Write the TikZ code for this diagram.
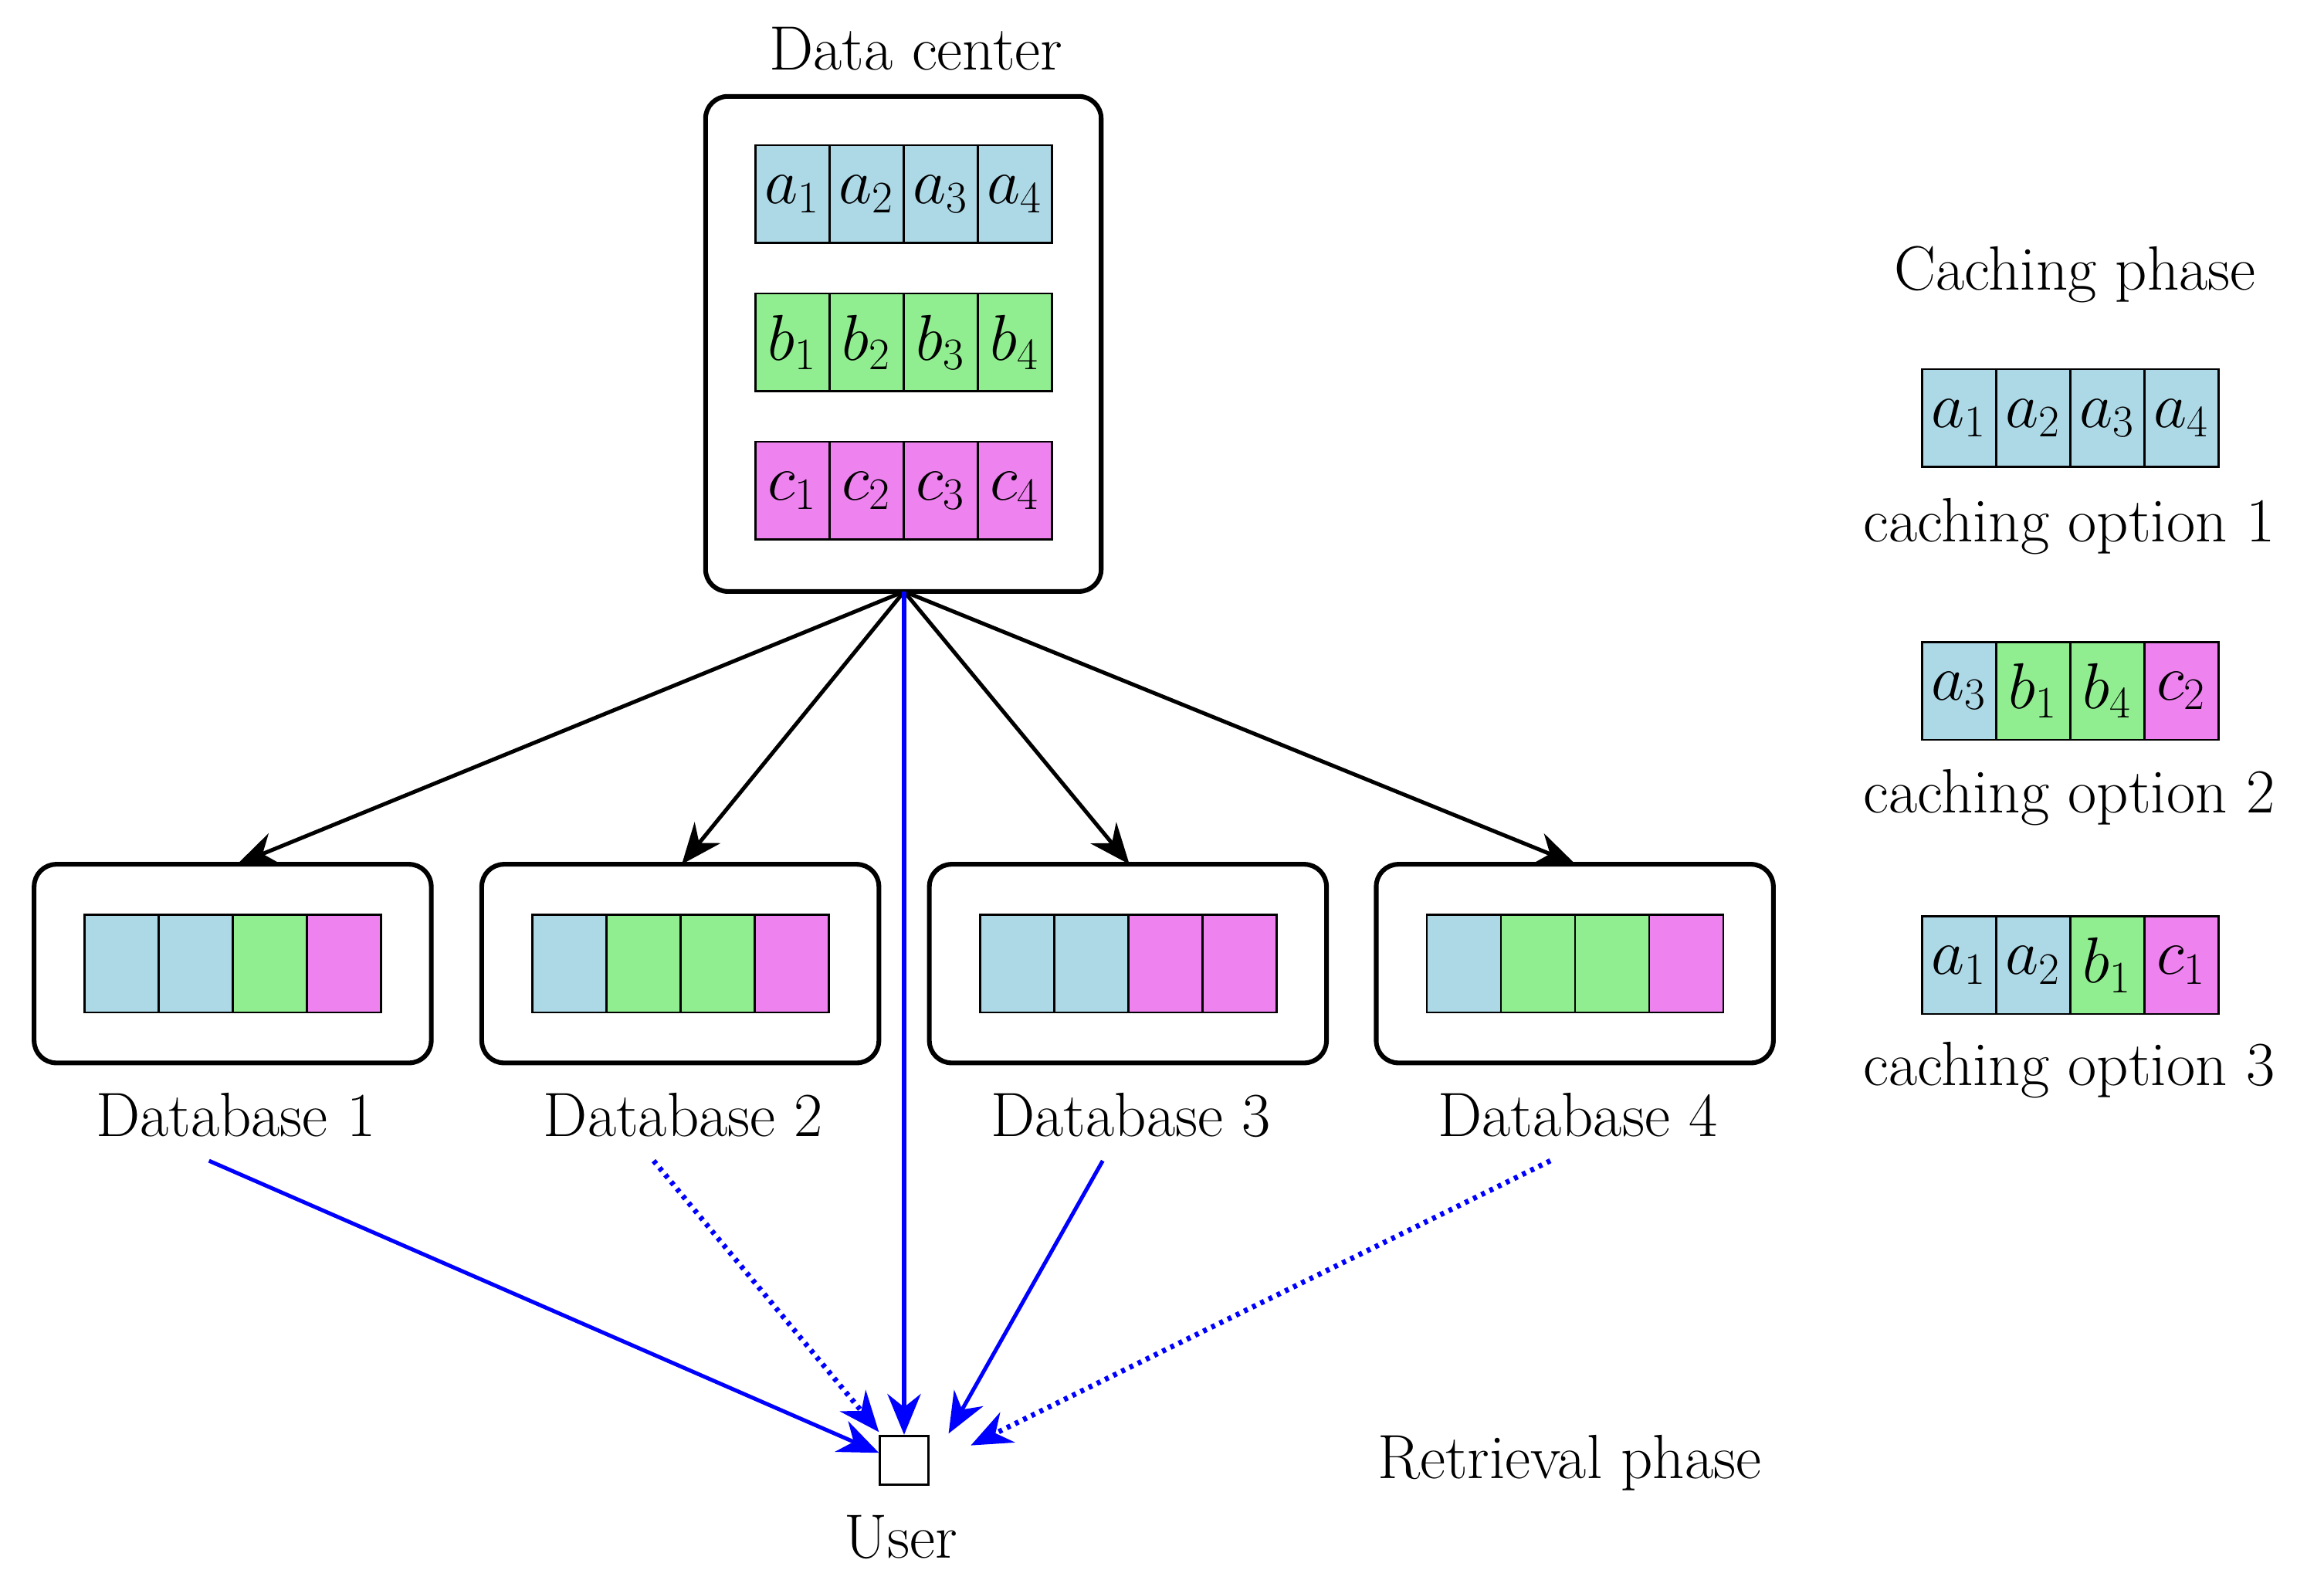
\documentclass[tikz,border=0pt]{standalone}
\usetikzlibrary{arrows.meta}
\definecolor{cA}{RGB}{173,216,230}
\definecolor{cB}{RGB}{144,238,144}
\definecolor{cC}{RGB}{238,130,238}
\newcommand{\cellrow}[4]{% name, left x, center y, list of color/label
  \foreach \c/\l [count=\i] in {#4} {
    \node[cell,fill=\c,anchor=west] (#1\i) at ({#2+(\i-1)*50},#3) {\l};
  }
}
\begin{document}
\begin{tikzpicture}[x=0.02cm,y=-0.02cm,
  every node/.style={font=\fontsize{24}{28}\selectfont},
  cell/.style={draw,line width=0.8pt,minimum width=1cm,minimum height=1.32cm,inner sep=0pt},
  box/.style={draw,line width=1.8pt,rounded corners=0.3cm},
  blk/.style={line width=1.5pt,-{Stealth[length=0.55cm,width=0.45cm]}},
  blu/.style={blue,line width=1.5pt,-{Stealth[length=0.55cm,width=0.45cm]}},
  dot/.style={blu,dotted,line width=2pt}]
\useasboundingbox (0,0) rectangle (1568,1070);
% data center
\node[box,minimum width=5.34cm,minimum height=6.68cm] (dc) at (609.5,232) {};
\node (dcl) at (618,33) {Data center};
\cellrow{ra}{509}{131}{cA/$a_1$,cA/$a_2$,cA/$a_3$,cA/$a_4$}
\cellrow{rb}{509}{231}{cB/$b_1$,cB/$b_2$,cB/$b_3$,cB/$b_4$}
\cellrow{rc}{509}{331}{cC/$c_1$,cC/$c_2$,cC/$c_3$,cC/$c_4$}
% databases
\foreach \k/\x in {1/157,2/459,3/761,4/1062.5} {
  \node[box,minimum width=5.36cm,minimum height=2.68cm] (db\k) at (\x,650) {};
  \node (dbl\k) at (\x+2,752) {Database \k};
}
\cellrow{d1c}{56.5}{650}{cA/{},cA/{},cB/{},cC/{}}
\cellrow{d2c}{358.5}{650}{cA/{},cB/{},cB/{},cC/{}}
\cellrow{d3c}{660.5}{650}{cA/{},cA/{},cC/{},cC/{}}
\cellrow{d4c}{962}{650}{cA/{},cB/{},cB/{},cC/{}}
% user
\node[draw,line width=0.8pt,minimum size=0.66cm,inner sep=0pt] (user) at (610,985) {};
\node (ul) at (608,1037) {User};
% arrows
\coordinate (src) at (610,399);
\foreach \k/\x in {1/160,2/460,3/762,4/1063} {
  \coordinate (t\k) at (\x,583);
  \draw[blk] (src) -- (t\k);
}
\coordinate (s1) at (141,783);
\coordinate (s2) at (441,783);
\coordinate (s3) at (744,783);
\coordinate (s4) at (1046,783);
\coordinate (e1) at (593,980);
\coordinate (e2) at (593,966);
\coordinate (e3) at (640,967);
\coordinate (e4) at (655,975);
\draw[blu] (src) -- (user.north);
\draw[blu] (s1) -- (e1);
\draw[dot] (s2) -- (e2);
\draw[blu] (s3) -- (e3);
\draw[dot] (s4) -- (e4);
% legend
\node (cp) at (1400,185) {Caching phase};
\cellrow{o1}{1296}{282}{cA/$a_1$,cA/$a_2$,cA/$a_3$,cA/$a_4$}
\node (ol1) at (1396,355) {caching option 1};
\cellrow{o2}{1296}{466}{cA/$a_3$,cB/$b_1$,cB/$b_4$,cC/$c_2$}
\node (ol2) at (1396,538) {caching option 2};
\cellrow{o3}{1296}{651}{cA/$a_1$,cA/$a_2$,cB/$b_1$,cC/$c_1$}
\node (ol3) at (1396,722) {caching option 3};
\node (rp) at (1059,987) {Retrieval phase};
\end{tikzpicture}
\end{document}
